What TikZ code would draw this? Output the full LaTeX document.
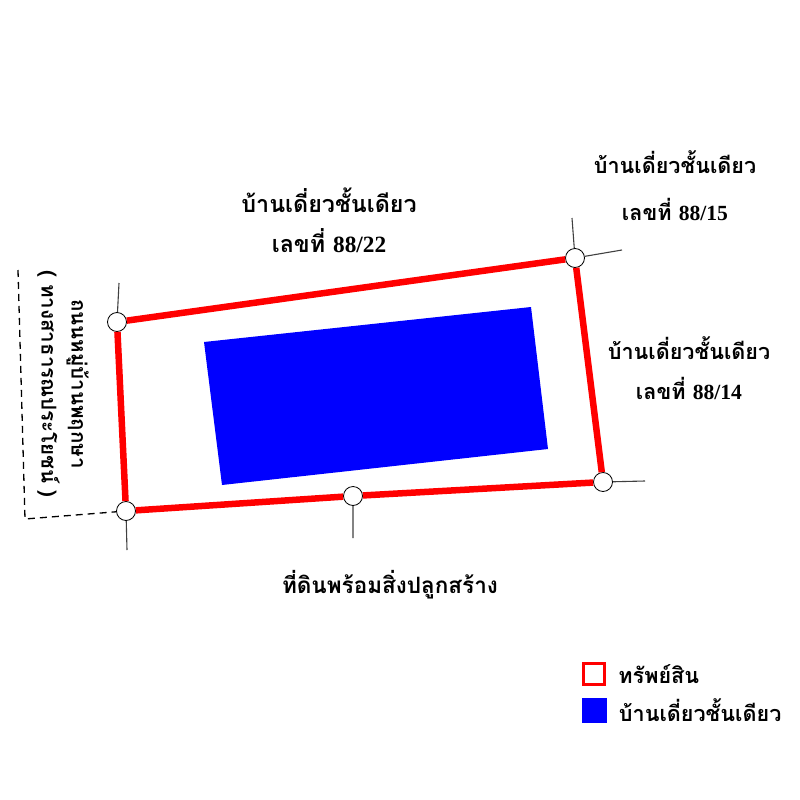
\documentclass[tikz,border=0pt]{standalone}
\usepackage{fontspec}
\setmainfont{Liberation Serif}
\newfontfamily\thaifont[Script=Thai]{Loma}
\usetikzlibrary{positioning}

\begin{document}
\begin{tikzpicture}[
        x=1pt, y=-1pt,
        pin/.style={circle, draw=black, fill=white, thick, minimum size=19pt, inner sep=0pt},
        lot/.style={draw=red, line width=6.5pt},
        tick/.style={draw=black!75, line width=1.1pt},
        lbl/.style={font=\thaifont\bfseries\fontsize{21.6}{40}\selectfont, align=center, inner sep=0pt},
        keybox/.style={minimum size=21pt, inner sep=0pt},
        node distance=8pt
    ]
        \useasboundingbox (0,0) rectangle (800,800);

        % house footprint
        \fill[blue] (204,342) -- (531,307) -- (548,449) -- (222,485) -- cycle;

        % boundary pins
        \node[pin] (tl) at (117,322) {};
        \node[pin] (tr) at (575,258) {};
        \node[pin] (br) at (603,482) {};
        \node[pin] (bl) at (126,511) {};
        \node[pin] (bm) at (353,496) {};

        \coordinate (tlup) at (119,283);
        \coordinate (bldown) at (127,550);
        \coordinate (trup) at (572,218);
        \coordinate (trright) at (622,250);
        \coordinate (brright) at (645,481);
        \coordinate (bmdown) at (353,538);
        \coordinate (roadtop) at (18,270);
        \coordinate (roadbot) at (25,519);

        \path[lot] (tl) -- (tr)  (tr) -- (br)  (br) -- (bm)  (bm) -- (bl)  (bl) -- (tl);
        \path[tick] (tl) -- (tlup)  (bl) -- (bldown)  (tr) -- (trup)
            (tr) -- (trright)  (br) -- (brright)  (bm) -- (bmdown);
        \draw[line width=1.3pt, dash pattern=on 7pt off 5pt] (roadtop) -- (roadbot) -- (bl);

        % neighbours
        \node[lbl, font=\thaifont\bfseries\fontsize{23.3}{40}\selectfont] (north) at (329,220)
            {บ้านเดี่ยวชั้นเดียว\\เลขที่ {\rmfamily 88/22}};
        \node[lbl, font=\thaifont\bfseries\fontsize{21.6}{47}\selectfont] (ne) at (675,186)
            {บ้านเดี่ยวชั้นเดียว\\เลขที่ {\rmfamily 88/15}};
        \node[lbl] (east) at (689,368) {บ้านเดี่ยวชั้นเดียว\\เลขที่ {\rmfamily 88/14}};
        \node[lbl, font=\thaifont\bfseries\fontsize{22.5}{40}\selectfont] (south) at (390,585)
            {ที่ดินพร้อมสิ่งปลูกสร้าง};
        \node[lbl, rotate=-90, font=\thaifont\bfseries\fontsize{20.5}{30}\selectfont] (west) at (63,384)
            {ถนนหมู่บ้านพฤกษา\\( ทางสาธารณประโยชน์ )};

        % legend
        \node[keybox, draw=red, line width=3.5pt, fill=white] (keylot) at (594,674) {};
        \node[keybox, fill=blue, minimum size=25pt] (keyhouse) at (594,710) {};
        \node[lbl, right=12pt of keylot] {ทรัพย์สิน};
        \node[lbl, right=12pt of keyhouse] {บ้านเดี่ยวชั้นเดียว};
    \end{tikzpicture}
\end{document}
